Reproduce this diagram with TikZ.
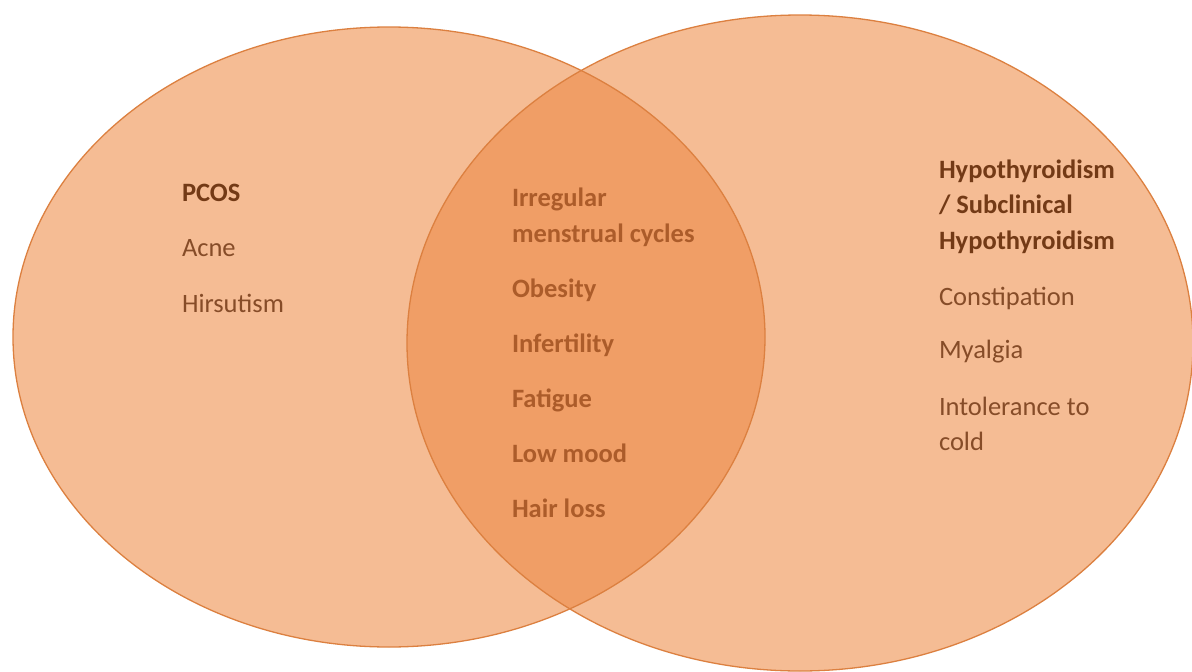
\documentclass[tikz,border=0pt]{standalone}
\usepackage{fontspec}
\setmainfont{Carlito}
\definecolor{fillL}{RGB}{245,188,148}
\definecolor{lensc}{RGB}{240,158,102}
\definecolor{edgec}{RGB}{220,128,64}
\definecolor{headc}{RGB}{115,58,22}
\definecolor{itemc}{RGB}{134,76,40}
\definecolor{midc}{RGB}{172,92,42}
\begin{document}
\begin{tikzpicture}[x=1pt,y=-1pt,
  txt/.style={inner sep=0pt, outer sep=0pt, anchor=base west, font=\fontsize{26.5}{30}\selectfont},
  headtxt/.style={txt, text=headc, font=\fontsize{26.5}{30}\selectfont\bfseries},
  itemtxt/.style={txt, text=itemc},
  midtxt/.style={txt, text=midc, font=\fontsize{26.5}{30}\selectfont\bfseries},
  rim/.style={draw=edgec, line width=1.3pt}]
\useasboundingbox (0,0) rectangle (1192,672);
\fill[white] (0,0) rectangle (1192,672);
% circles
\fill[fillL] (389,337) ellipse [x radius=376, y radius=310];
\fill[fillL] (800,343) ellipse [x radius=393, y radius=328];
\begin{scope}
  \clip (389,337) ellipse [x radius=376, y radius=310];
  \fill[lensc] (800,343) ellipse [x radius=393, y radius=328];
\end{scope}
\path[rim] (389,337) ellipse [x radius=376, y radius=310];
\path[rim] (800,343) ellipse [x radius=393, y radius=328];
% left
\node[headtxt] (pcos) at (182,201) {PCOS};
\node[itemtxt] (acne) at (182,256) {Acne};
\node[itemtxt] (hirs) at (182,312) {Hirsutism};
% middle
\node[midtxt] (irr1) at (512,206) {Irregular};
\node[midtxt] (irr2) at (512,242) {menstrual cycles};
\node[midtxt] (obes) at (512,297) {Obesity};
\node[midtxt] (infe) at (512,352) {Infertility};
\node[midtxt] (fati) at (512,407) {Fatigue};
\node[midtxt] (lowm) at (512,462) {Low mood};
\node[midtxt] (hair) at (512,517) {Hair loss};
% right
\node[headtxt] (hyp1) at (939,178) {Hypothyroidism};
\node[headtxt] (hyp2) at (939,213) {/ Subclinical};
\node[headtxt] (hyp3) at (939,249) {Hypothyroidism};
\node[itemtxt] (cons) at (939,305) {Constipation};
\node[itemtxt] (myal) at (939,358) {Myalgia};
\node[itemtxt] (into1) at (939,415) {Intolerance to};
\node[itemtxt] (into2) at (939,450) {cold};
\end{tikzpicture}
\end{document}
